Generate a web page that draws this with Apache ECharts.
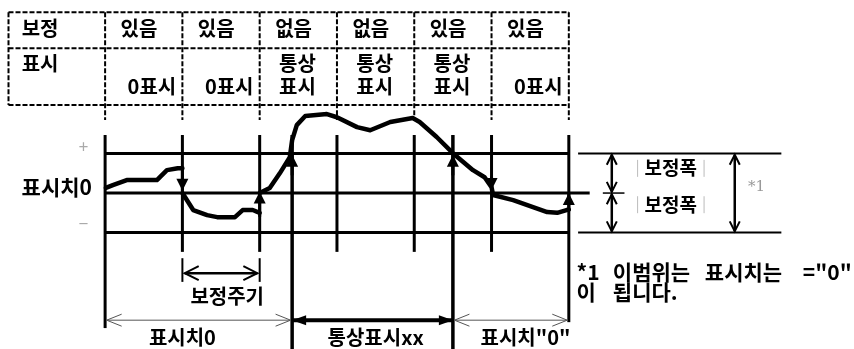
<!DOCTYPE html>
<html>
<head>
<meta charset="utf-8">
<script src="https://cdn.jsdelivr.net/npm/echarts@6/dist/echarts.min.js"></script>
<style>
  html, body { margin: 0; padding: 0; background: #fff; }
  #chart { width: 854px; height: 349px; }
</style>
</head>
<body>
<div id="chart"></div>
<script>
// 시간축: 1 = 보정주기 1회, 값축: 1 = 보정폭
const periods = [0, 1, 2, 3, 4, 5, 6];
const correctionRow = ['있음', '있음', '없음', '없음', '있음', '있음'];
const displayRow = ['0표시', '0표시', '통상표시', '통상표시', '통상표시', '0표시'];
const bandLevels = [1, 0, -1];          // +보정폭, 표시치0, -보정폭
const crossings = [2.42, 4.5];          // 파형이 +보정폭을 넘는 시점
const correctionMoves = [               // 보정 시점의 화살표 [시점, 시작값, 끝값]
  [1, 0.63, 0.06],
  [2, -0.6, 0.04],
  [5, 0.42, 0.08],
  [6, -0.45, 0.0]
];

// 측정 파형 (보정 시점에서 끊김)
const wave1 = [[0.01, 0.13], [0.1, 0.2], [0.28, 0.33], [0.67, 0.33], [0.8, 0.58], [0.94, 0.63], [1.0, 0.63]];
const wave2 = [[1.0, 0.0], [1.14, -0.43], [1.32, -0.56], [1.45, -0.61], [1.68, -0.61], [1.78, -0.43],
  [1.91, -0.43], [2.0, -0.5]];
const wave3 = [[2.0, 0.0], [2.13, 0.13], [2.26, 0.5], [2.39, 0.91], [2.42, 1.34], [2.48, 1.72],
  [2.59, 1.95], [2.87, 2.0], [3.0, 1.92], [3.26, 1.67], [3.43, 1.59], [3.69, 1.8], [3.98, 1.9],
  [4.07, 1.8], [4.29, 1.42], [4.5, 1.01], [4.76, 0.58], [4.91, 0.4], [5.0, 0.15], [5.02, -0.05],
  [5.28, -0.18], [5.5, -0.33], [5.72, -0.48], [5.85, -0.5], [5.97, -0.43], [6.0, -0.42]];

// 주석 문구 (단어별)
const noteLine1 = ['*1', '이범위는', '표시치는', '="0"'];
const noteLine2 = ['이', '됩니다.'];

const T_MIN = -1.36, T_MAX = 9.69, V_MIN = -3.95, V_MAX = 4.89;
const FONT = '"Noto Sans CJK KR", "Noto Sans", sans-serif';

const strokes = [];
const texts = [];
function seg(a, b, w, opts) {
  strokes.push(Object.assign({ pts: [a, b], w: w, color: '#000' }, opts || {}));
}
function txt(at, text, opts) {
  texts.push(Object.assign({ at: at, text: text, align: 'center', size: 20, color: '#000', weight: 'bold' }, opts || {}));
}

// 표 (점선)
const tabTop = 4.58, tabMid = 3.67, tabBot = 2.23, tabLeft = -1.25;
const dash = { dash: [5, 2] };
[tabTop, tabMid, tabBot].forEach(v => seg([tabLeft, v], [periods[6], v], 2, dash));
seg([tabLeft, tabTop], [tabLeft, tabBot], 2, dash);
periods.forEach(p => seg([p, tabTop], [p, 1.85], 2, dash));
txt([tabLeft + 0.17, 4.18], '보정', { align: 'left' });
txt([tabLeft + 0.17, 3.29], '표시', { align: 'left' });
correctionRow.forEach((s, i) => txt([periods[i] + 0.2, 4.18], s, { align: 'left' }));
displayRow.forEach((s, i) => {
  if (s === '통상표시') {
    txt([periods[i] + 0.25, 3.29], '통상', { align: 'left' });
    txt([periods[i] + 0.25, 2.71], '표시', { align: 'left' });
  } else {
    txt([periods[i + 1] - 0.08, 2.71], s, { align: 'right' });
  }
});

// 보정폭 밴드와 보정 시점
seg([periods[0], bandLevels[0]], [periods[6], bandLevels[0]], 3);
seg([periods[0], bandLevels[2]], [periods[6], bandLevels[2]], 3);
seg([periods[0], bandLevels[1]], [6.27, bandLevels[1]], 3);
periods.forEach(p => {
  const bottom = p === 0 ? -3.42 : (p === 6 ? -3.27 : -1.49);
  seg([p, 1.47], [p, bottom], 3);
});
crossings.forEach(c => {
  seg([c, 1.47], [c, V_MIN], 3.5);
  seg([c, 0.45], [c, 0.97], 3, { head1: 'fill' });
});
correctionMoves.forEach(m => seg([m[0], m[1]], [m[0], m[2]], 3, { head1: 'fill' }));

// 파형
[wave1, wave2, wave3].forEach(w => strokes.push({ pts: w, w: 4.5, color: '#000', cap: 'round' }));

// 좌측 라벨
txt([-0.28, 1.19], '+', { color: '#aaa', size: 17, weight: 'normal' });
txt([-0.17, 0.15], '표시치0', { align: 'right', size: 21 });
txt([-0.28, -0.76], '−', { color: '#aaa', size: 17, weight: 'normal' });

// 우측 보정폭 설명
seg([6.12, bandLevels[0]], [8.75, bandLevels[0]], 2);
seg([6.12, bandLevels[2]], [8.75, bandLevels[2]], 2);
seg([6.556, 0.97], [6.556, 0.03], 2.5, { head0: 'open', head1: 'open' });
seg([6.556, -0.03], [6.556, -0.97], 2.5, { head0: 'open', head1: 'open' });
seg([6.44, 0], [6.72, 0], 1.5);
seg([8.147, 0.97], [8.147, -0.97], 2.5, { head0: 'open', head1: 'open' });
[[0.84, 0.41], [-0.08, -0.51]].forEach(r => {
  seg([6.89, r[0]], [6.89, r[1]], 1, { color: '#bbb' });
  seg([7.75, r[0]], [7.75, r[1]], 1, { color: '#bbb' });
});
txt([7.32, 0.63], '보정폭', { size: 19 });
txt([7.32, -0.29], '보정폭', { size: 19 });
txt([8.43, 0.15], '*1', { color: '#999', size: 15, weight: 'normal', family: '"DejaVu Serif", serif' });

// 보정주기
seg([periods[1], -1.65], [periods[1], -2.25], 2);
seg([periods[2], -1.65], [periods[2], -2.25], 2);
seg([1.03, -2.03], [1.97, -2.03], 2.5, { head0: 'open', head1: 'open', headLen: 14, headW: 7 });
txt([1.58, -2.63], '보정주기');

// 하단 구간 화살표
const rowV = -3.22;
const thin = { color: '#555', head0: 'open', head1: 'open', headLen: 15, headW: 6 };
seg([periods[0] + 0.02, rowV], [crossings[0] - 0.02, rowV], 1, thin);
seg([crossings[0], rowV], [crossings[1], rowV], 4, { head0: 'fill', head1: 'fill', headLen: 14, headW: 5 });
seg([crossings[1] + 0.02, rowV], [periods[6] - 0.02, rowV], 1, thin);
txt([1.0, -3.65], '표시치0');
txt([3.5, -3.65], '통상표시xx');
txt([5.44, -3.65], '표시치"0"');

// 주석 (단어 위치; 마지막 단어는 오른쪽 끝 정렬)
const note1At = [6.1, 6.57, 7.76, 9.66];
const note2At = [6.1, 6.57];
noteLine1.forEach((w, i) => txt([note1At[i], -2.0], w, {
  align: i === noteLine1.length - 1 ? 'right' : 'left', size: 21
}));
noteLine2.forEach((w, i) => txt([note2At[i], -2.51], w, { align: 'left', size: 21 }));

function arrowHead(from, tip, kind, s) {
  const dx = tip[0] - from[0], dy = tip[1] - from[1];
  const len = Math.sqrt(dx * dx + dy * dy) || 1;
  const ux = dx / len, uy = dy / len, nx = -uy, ny = ux;
  const L = s.headLen || (kind === 'fill' ? 12 : 10);
  const W = s.headW || (kind === 'fill' ? 6 : 5);
  const a = [tip[0] - ux * L + nx * W, tip[1] - uy * L + ny * W];
  const b = [tip[0] - ux * L - nx * W, tip[1] - uy * L - ny * W];
  if (kind === 'fill') {
    return { type: 'polygon', shape: { points: [tip, a, b] }, style: { fill: s.color } };
  }
  return {
    type: 'polyline', shape: { points: [a, tip, b] },
    style: { stroke: s.color, lineWidth: Math.max(1, s.w * 0.8), fill: null }
  };
}

function renderItem(params, api) {
  const children = [];
  strokes.forEach(s => {
    const pts = s.pts.map(p => api.coord(p));
    children.push({
      type: 'polyline',
      shape: { points: pts },
      style: {
        stroke: s.color, lineWidth: s.w, fill: null,
        lineDash: s.dash || null, lineJoin: 'round', lineCap: s.cap || 'butt'
      }
    });
    if (s.head0) children.push(arrowHead(pts[1], pts[0], s.head0, s));
    if (s.head1) children.push(arrowHead(pts[pts.length - 2], pts[pts.length - 1], s.head1, s));
  });
  texts.forEach(t => {
    const p = api.coord(t.at);
    children.push({
      type: 'text', x: p[0], y: p[1],
      style: {
        text: t.text, fill: t.color, fontSize: t.size, fontWeight: t.weight,
        fontFamily: t.family || FONT, align: t.align, verticalAlign: 'middle'
      }
    });
  });
  return { type: 'group', children: children };
}

const chart = echarts.init(document.getElementById('chart'));
chart.setOption({
  animation: false,
  backgroundColor: '#fff',
  grid: { left: 0, right: 0, top: 0, bottom: 0 },
  xAxis: { type: 'value', min: T_MIN, max: T_MAX, show: false },
  yAxis: { type: 'value', min: V_MIN, max: V_MAX, show: false },
  series: [{
    type: 'custom',
    coordinateSystem: 'cartesian2d',
    clip: false,
    silent: true,
    renderItem: renderItem,
    data: [[0, 0]]
  }]
});
</script>
</body>
</html>
